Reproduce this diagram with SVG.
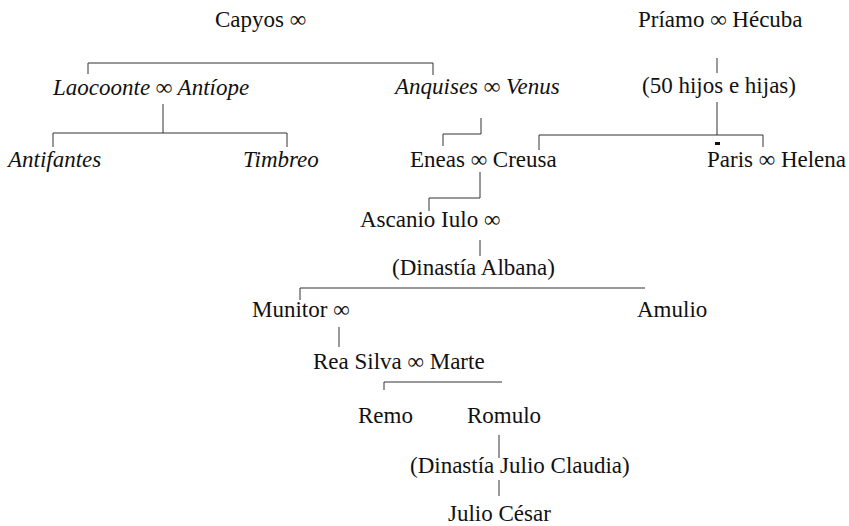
<svg xmlns="http://www.w3.org/2000/svg" width="849" height="526" viewBox="0 0 849 526">
<style>
text{font-family:"Liberation Serif","Times New Roman",serif;font-size:23px;fill:#111}
.i{font-style:italic}
.c{fill:none;stroke:#333;stroke-width:1}
</style>
<rect width="849" height="526" fill="#fff"/>
<g id="connectors">
<path class="c" d="M88,74 V63 H433 V75"/>
<path class="c" d="M163,104 V133"/>
<path class="c" d="M53,147 V133 H287 V147"/>
<path class="c" d="M481,118 V134 H443 V146"/>
<path class="c" d="M717,58 V73"/>
<path class="c" d="M717,102 V135"/>
<path class="c" d="M539,150 V135 H763 V147"/>
<rect x="715" y="142" width="5" height="3" fill="#111"/>
<path class="c" d="M480,172 V198 H429 V211"/>
<path class="c" d="M480,240 V256"/>
<path class="c" d="M300,300 V288 H645"/>
<path class="c" d="M339,327 V347"/>
<path class="c" d="M384,390 V382 H502"/>
<path class="c" d="M499,435 V458"/>
<path class="c" d="M499,480 V496"/>
</g>
<g id="capyos"><text x="215" y="27">Capyos ∞</text></g>
<g id="priamo"><text x="638" y="27">Príamo ∞ Hécuba</text></g>
<g id="laocoonte"><text class="i" x="53" y="95">Laocoonte ∞ Antíope</text></g>
<g id="anquises"><text class="i" x="395" y="94">Anquises ∞ Venus</text></g>
<g id="hijos"><text x="642" y="93">(50 hijos e hijas)</text></g>
<g id="antifantes"><text class="i" x="8" y="167">Antifantes</text></g>
<g id="timbreo"><text class="i" x="243" y="167">Timbreo</text></g>
<g id="eneas"><text x="410" y="167">Eneas ∞ Creusa</text></g>
<g id="paris"><text x="707" y="167">Paris ∞ Helena</text></g>
<g id="ascanio"><text x="360" y="227">Ascanio Iulo ∞</text></g>
<g id="albana"><text x="392" y="275">(Dinastía Albana)</text></g>
<g id="munitor"><text x="252" y="317">Munitor ∞</text></g>
<g id="amulio"><text x="637" y="317">Amulio</text></g>
<g id="rea"><text x="313" y="369">Rea Silva ∞ Marte</text></g>
<g id="remo"><text x="358" y="423">Remo</text></g>
<g id="romulo"><text x="467" y="423">Romulo</text></g>
<g id="juliaclaudia"><text x="410" y="473">(Dinastía Julio Claudia)</text></g>
<g id="cesar"><text x="448" y="521">Julio César</text></g>
</svg>
